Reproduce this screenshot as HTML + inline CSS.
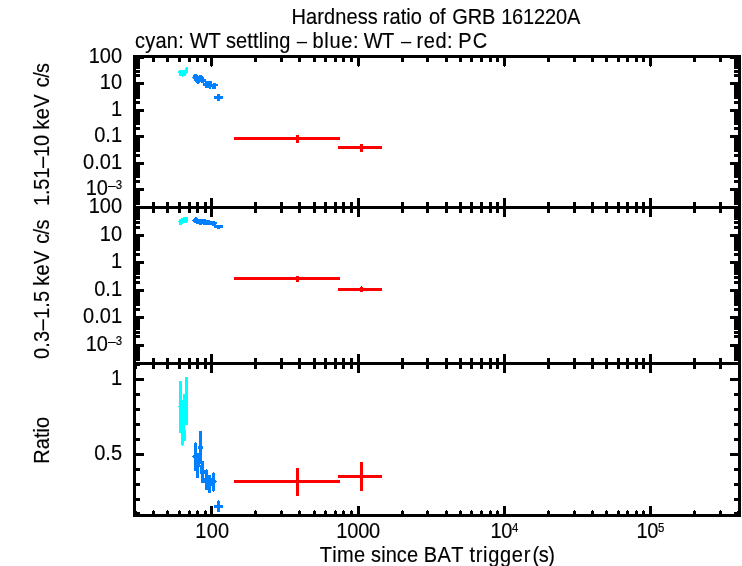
<!DOCTYPE html>
<html><head><meta charset="utf-8"><title>Hardness ratio of GRB 161220A</title>
<style>html,body{margin:0;padding:0;background:#fff}svg{display:block}text{font-kerning:none;font-family:"Liberation Sans",sans-serif;font-size:20px;fill:#000;stroke:#000;stroke-width:0.15px}</style></head>
<body><svg width="742" height="566" viewBox="0 0 742 566">
<rect width="742" height="566" fill="#fff"/>
<g shape-rendering="crispEdges">
<rect x="133" y="55" width="608" height="3" fill="#000"/>
<rect x="133" y="206" width="608" height="3" fill="#000"/>
<rect x="133" y="362" width="608" height="3" fill="#000"/>
<rect x="133" y="514" width="608" height="3" fill="#000"/>
<rect x="133" y="55" width="3" height="462" fill="#000"/>
<rect x="738" y="55" width="3" height="462" fill="#000"/>
<rect x="152" y="55" width="3" height="7" fill="#000"/>
<rect x="166" y="55" width="3" height="7" fill="#000"/>
<rect x="178" y="55" width="3" height="7" fill="#000"/>
<rect x="188" y="55" width="3" height="7" fill="#000"/>
<rect x="196" y="55" width="3" height="7" fill="#000"/>
<rect x="204" y="55" width="3" height="7" fill="#000"/>
<rect x="254" y="55" width="3" height="7" fill="#000"/>
<rect x="280" y="55" width="3" height="7" fill="#000"/>
<rect x="298" y="55" width="3" height="7" fill="#000"/>
<rect x="313" y="55" width="3" height="7" fill="#000"/>
<rect x="324" y="55" width="3" height="7" fill="#000"/>
<rect x="334" y="55" width="3" height="7" fill="#000"/>
<rect x="342" y="55" width="3" height="7" fill="#000"/>
<rect x="350" y="55" width="3" height="7" fill="#000"/>
<rect x="401" y="55" width="3" height="7" fill="#000"/>
<rect x="426" y="55" width="3" height="7" fill="#000"/>
<rect x="445" y="55" width="3" height="7" fill="#000"/>
<rect x="459" y="55" width="3" height="7" fill="#000"/>
<rect x="470" y="55" width="3" height="7" fill="#000"/>
<rect x="480" y="55" width="3" height="7" fill="#000"/>
<rect x="489" y="55" width="3" height="7" fill="#000"/>
<rect x="496" y="55" width="3" height="7" fill="#000"/>
<rect x="547" y="55" width="3" height="7" fill="#000"/>
<rect x="573" y="55" width="3" height="7" fill="#000"/>
<rect x="591" y="55" width="3" height="7" fill="#000"/>
<rect x="605" y="55" width="3" height="7" fill="#000"/>
<rect x="617" y="55" width="3" height="7" fill="#000"/>
<rect x="626" y="55" width="3" height="7" fill="#000"/>
<rect x="635" y="55" width="3" height="7" fill="#000"/>
<rect x="642" y="55" width="3" height="7" fill="#000"/>
<rect x="693" y="55" width="3" height="7" fill="#000"/>
<rect x="719" y="55" width="3" height="7" fill="#000"/>
<rect x="210" y="55" width="3" height="11" fill="#000"/>
<rect x="211" y="66" width="1" height="1" fill="#000"/>
<rect x="357" y="55" width="3" height="11" fill="#000"/>
<rect x="358" y="66" width="1" height="1" fill="#000"/>
<rect x="503" y="55" width="3" height="11" fill="#000"/>
<rect x="504" y="66" width="1" height="1" fill="#000"/>
<rect x="649" y="55" width="3" height="11" fill="#000"/>
<rect x="650" y="66" width="1" height="1" fill="#000"/>
<rect x="152" y="202" width="3" height="11" fill="#000"/>
<rect x="166" y="202" width="3" height="11" fill="#000"/>
<rect x="178" y="202" width="3" height="11" fill="#000"/>
<rect x="188" y="202" width="3" height="11" fill="#000"/>
<rect x="196" y="202" width="3" height="11" fill="#000"/>
<rect x="204" y="202" width="3" height="11" fill="#000"/>
<rect x="254" y="202" width="3" height="11" fill="#000"/>
<rect x="280" y="202" width="3" height="11" fill="#000"/>
<rect x="298" y="202" width="3" height="11" fill="#000"/>
<rect x="313" y="202" width="3" height="11" fill="#000"/>
<rect x="324" y="202" width="3" height="11" fill="#000"/>
<rect x="334" y="202" width="3" height="11" fill="#000"/>
<rect x="342" y="202" width="3" height="11" fill="#000"/>
<rect x="350" y="202" width="3" height="11" fill="#000"/>
<rect x="401" y="202" width="3" height="11" fill="#000"/>
<rect x="426" y="202" width="3" height="11" fill="#000"/>
<rect x="445" y="202" width="3" height="11" fill="#000"/>
<rect x="459" y="202" width="3" height="11" fill="#000"/>
<rect x="470" y="202" width="3" height="11" fill="#000"/>
<rect x="480" y="202" width="3" height="11" fill="#000"/>
<rect x="489" y="202" width="3" height="11" fill="#000"/>
<rect x="496" y="202" width="3" height="11" fill="#000"/>
<rect x="547" y="202" width="3" height="11" fill="#000"/>
<rect x="573" y="202" width="3" height="11" fill="#000"/>
<rect x="591" y="202" width="3" height="11" fill="#000"/>
<rect x="605" y="202" width="3" height="11" fill="#000"/>
<rect x="617" y="202" width="3" height="11" fill="#000"/>
<rect x="626" y="202" width="3" height="11" fill="#000"/>
<rect x="635" y="202" width="3" height="11" fill="#000"/>
<rect x="642" y="202" width="3" height="11" fill="#000"/>
<rect x="693" y="202" width="3" height="11" fill="#000"/>
<rect x="719" y="202" width="3" height="11" fill="#000"/>
<rect x="210" y="198" width="3" height="19" fill="#000"/>
<rect x="357" y="198" width="3" height="19" fill="#000"/>
<rect x="503" y="198" width="3" height="19" fill="#000"/>
<rect x="649" y="198" width="3" height="19" fill="#000"/>
<rect x="152" y="358" width="3" height="11" fill="#000"/>
<rect x="166" y="358" width="3" height="11" fill="#000"/>
<rect x="178" y="358" width="3" height="11" fill="#000"/>
<rect x="188" y="358" width="3" height="11" fill="#000"/>
<rect x="196" y="358" width="3" height="11" fill="#000"/>
<rect x="204" y="358" width="3" height="11" fill="#000"/>
<rect x="254" y="358" width="3" height="11" fill="#000"/>
<rect x="280" y="358" width="3" height="11" fill="#000"/>
<rect x="298" y="358" width="3" height="11" fill="#000"/>
<rect x="313" y="358" width="3" height="11" fill="#000"/>
<rect x="324" y="358" width="3" height="11" fill="#000"/>
<rect x="334" y="358" width="3" height="11" fill="#000"/>
<rect x="342" y="358" width="3" height="11" fill="#000"/>
<rect x="350" y="358" width="3" height="11" fill="#000"/>
<rect x="401" y="358" width="3" height="11" fill="#000"/>
<rect x="426" y="358" width="3" height="11" fill="#000"/>
<rect x="445" y="358" width="3" height="11" fill="#000"/>
<rect x="459" y="358" width="3" height="11" fill="#000"/>
<rect x="470" y="358" width="3" height="11" fill="#000"/>
<rect x="480" y="358" width="3" height="11" fill="#000"/>
<rect x="489" y="358" width="3" height="11" fill="#000"/>
<rect x="496" y="358" width="3" height="11" fill="#000"/>
<rect x="547" y="358" width="3" height="11" fill="#000"/>
<rect x="573" y="358" width="3" height="11" fill="#000"/>
<rect x="591" y="358" width="3" height="11" fill="#000"/>
<rect x="605" y="358" width="3" height="11" fill="#000"/>
<rect x="617" y="358" width="3" height="11" fill="#000"/>
<rect x="626" y="358" width="3" height="11" fill="#000"/>
<rect x="635" y="358" width="3" height="11" fill="#000"/>
<rect x="642" y="358" width="3" height="11" fill="#000"/>
<rect x="693" y="358" width="3" height="11" fill="#000"/>
<rect x="719" y="358" width="3" height="11" fill="#000"/>
<rect x="210" y="354" width="3" height="19" fill="#000"/>
<rect x="357" y="354" width="3" height="19" fill="#000"/>
<rect x="503" y="354" width="3" height="19" fill="#000"/>
<rect x="649" y="354" width="3" height="19" fill="#000"/>
<rect x="152" y="511" width="3" height="6" fill="#000"/>
<rect x="153" y="510" width="1" height="1" fill="#000"/>
<rect x="166" y="511" width="3" height="6" fill="#000"/>
<rect x="167" y="510" width="1" height="1" fill="#000"/>
<rect x="178" y="511" width="3" height="6" fill="#000"/>
<rect x="179" y="510" width="1" height="1" fill="#000"/>
<rect x="188" y="511" width="3" height="6" fill="#000"/>
<rect x="189" y="510" width="1" height="1" fill="#000"/>
<rect x="196" y="511" width="3" height="6" fill="#000"/>
<rect x="197" y="510" width="1" height="1" fill="#000"/>
<rect x="204" y="511" width="3" height="6" fill="#000"/>
<rect x="205" y="510" width="1" height="1" fill="#000"/>
<rect x="254" y="511" width="3" height="6" fill="#000"/>
<rect x="255" y="510" width="1" height="1" fill="#000"/>
<rect x="280" y="511" width="3" height="6" fill="#000"/>
<rect x="281" y="510" width="1" height="1" fill="#000"/>
<rect x="298" y="511" width="3" height="6" fill="#000"/>
<rect x="299" y="510" width="1" height="1" fill="#000"/>
<rect x="313" y="511" width="3" height="6" fill="#000"/>
<rect x="314" y="510" width="1" height="1" fill="#000"/>
<rect x="324" y="511" width="3" height="6" fill="#000"/>
<rect x="325" y="510" width="1" height="1" fill="#000"/>
<rect x="334" y="511" width="3" height="6" fill="#000"/>
<rect x="335" y="510" width="1" height="1" fill="#000"/>
<rect x="342" y="511" width="3" height="6" fill="#000"/>
<rect x="343" y="510" width="1" height="1" fill="#000"/>
<rect x="350" y="511" width="3" height="6" fill="#000"/>
<rect x="351" y="510" width="1" height="1" fill="#000"/>
<rect x="401" y="511" width="3" height="6" fill="#000"/>
<rect x="402" y="510" width="1" height="1" fill="#000"/>
<rect x="426" y="511" width="3" height="6" fill="#000"/>
<rect x="427" y="510" width="1" height="1" fill="#000"/>
<rect x="445" y="511" width="3" height="6" fill="#000"/>
<rect x="446" y="510" width="1" height="1" fill="#000"/>
<rect x="459" y="511" width="3" height="6" fill="#000"/>
<rect x="460" y="510" width="1" height="1" fill="#000"/>
<rect x="470" y="511" width="3" height="6" fill="#000"/>
<rect x="471" y="510" width="1" height="1" fill="#000"/>
<rect x="480" y="511" width="3" height="6" fill="#000"/>
<rect x="481" y="510" width="1" height="1" fill="#000"/>
<rect x="489" y="511" width="3" height="6" fill="#000"/>
<rect x="490" y="510" width="1" height="1" fill="#000"/>
<rect x="496" y="511" width="3" height="6" fill="#000"/>
<rect x="497" y="510" width="1" height="1" fill="#000"/>
<rect x="547" y="511" width="3" height="6" fill="#000"/>
<rect x="548" y="510" width="1" height="1" fill="#000"/>
<rect x="573" y="511" width="3" height="6" fill="#000"/>
<rect x="574" y="510" width="1" height="1" fill="#000"/>
<rect x="591" y="511" width="3" height="6" fill="#000"/>
<rect x="592" y="510" width="1" height="1" fill="#000"/>
<rect x="605" y="511" width="3" height="6" fill="#000"/>
<rect x="606" y="510" width="1" height="1" fill="#000"/>
<rect x="617" y="511" width="3" height="6" fill="#000"/>
<rect x="618" y="510" width="1" height="1" fill="#000"/>
<rect x="626" y="511" width="3" height="6" fill="#000"/>
<rect x="627" y="510" width="1" height="1" fill="#000"/>
<rect x="635" y="511" width="3" height="6" fill="#000"/>
<rect x="636" y="510" width="1" height="1" fill="#000"/>
<rect x="642" y="511" width="3" height="6" fill="#000"/>
<rect x="643" y="510" width="1" height="1" fill="#000"/>
<rect x="693" y="511" width="3" height="6" fill="#000"/>
<rect x="694" y="510" width="1" height="1" fill="#000"/>
<rect x="719" y="511" width="3" height="6" fill="#000"/>
<rect x="720" y="510" width="1" height="1" fill="#000"/>
<rect x="210" y="506" width="3" height="11" fill="#000"/>
<rect x="357" y="506" width="3" height="11" fill="#000"/>
<rect x="503" y="506" width="3" height="11" fill="#000"/>
<rect x="649" y="506" width="3" height="11" fill="#000"/>
<rect x="133" y="82" width="11" height="3" fill="#000"/>
<rect x="730" y="82" width="11" height="3" fill="#000"/>
<rect x="133" y="109" width="11" height="3" fill="#000"/>
<rect x="730" y="109" width="11" height="3" fill="#000"/>
<rect x="133" y="135" width="11" height="3" fill="#000"/>
<rect x="730" y="135" width="11" height="3" fill="#000"/>
<rect x="133" y="162" width="11" height="3" fill="#000"/>
<rect x="730" y="162" width="11" height="3" fill="#000"/>
<rect x="133" y="188" width="11" height="3" fill="#000"/>
<rect x="730" y="188" width="11" height="3" fill="#000"/>
<rect x="133" y="74" width="7" height="3" fill="#000"/>
<rect x="734" y="74" width="7" height="3" fill="#000"/>
<rect x="133" y="70" width="7" height="3" fill="#000"/>
<rect x="734" y="70" width="7" height="3" fill="#000"/>
<rect x="133" y="66" width="7" height="3" fill="#000"/>
<rect x="734" y="66" width="7" height="3" fill="#000"/>
<rect x="133" y="63" width="7" height="3" fill="#000"/>
<rect x="734" y="63" width="7" height="3" fill="#000"/>
<rect x="133" y="61" width="7" height="3" fill="#000"/>
<rect x="734" y="61" width="7" height="3" fill="#000"/>
<rect x="133" y="59" width="7" height="3" fill="#000"/>
<rect x="734" y="59" width="7" height="3" fill="#000"/>
<rect x="133" y="58" width="7" height="3" fill="#000"/>
<rect x="734" y="58" width="7" height="3" fill="#000"/>
<rect x="133" y="101" width="7" height="3" fill="#000"/>
<rect x="734" y="101" width="7" height="3" fill="#000"/>
<rect x="133" y="96" width="7" height="3" fill="#000"/>
<rect x="734" y="96" width="7" height="3" fill="#000"/>
<rect x="133" y="93" width="7" height="3" fill="#000"/>
<rect x="734" y="93" width="7" height="3" fill="#000"/>
<rect x="133" y="90" width="7" height="3" fill="#000"/>
<rect x="734" y="90" width="7" height="3" fill="#000"/>
<rect x="133" y="88" width="7" height="3" fill="#000"/>
<rect x="734" y="88" width="7" height="3" fill="#000"/>
<rect x="133" y="86" width="7" height="3" fill="#000"/>
<rect x="734" y="86" width="7" height="3" fill="#000"/>
<rect x="133" y="85" width="7" height="3" fill="#000"/>
<rect x="734" y="85" width="7" height="3" fill="#000"/>
<rect x="133" y="83" width="7" height="3" fill="#000"/>
<rect x="734" y="83" width="7" height="3" fill="#000"/>
<rect x="133" y="127" width="7" height="3" fill="#000"/>
<rect x="734" y="127" width="7" height="3" fill="#000"/>
<rect x="133" y="122" width="7" height="3" fill="#000"/>
<rect x="734" y="122" width="7" height="3" fill="#000"/>
<rect x="133" y="119" width="7" height="3" fill="#000"/>
<rect x="734" y="119" width="7" height="3" fill="#000"/>
<rect x="133" y="117" width="7" height="3" fill="#000"/>
<rect x="734" y="117" width="7" height="3" fill="#000"/>
<rect x="133" y="115" width="7" height="3" fill="#000"/>
<rect x="734" y="115" width="7" height="3" fill="#000"/>
<rect x="133" y="113" width="7" height="3" fill="#000"/>
<rect x="734" y="113" width="7" height="3" fill="#000"/>
<rect x="133" y="112" width="7" height="3" fill="#000"/>
<rect x="734" y="112" width="7" height="3" fill="#000"/>
<rect x="133" y="110" width="7" height="3" fill="#000"/>
<rect x="734" y="110" width="7" height="3" fill="#000"/>
<rect x="133" y="154" width="7" height="3" fill="#000"/>
<rect x="734" y="154" width="7" height="3" fill="#000"/>
<rect x="133" y="149" width="7" height="3" fill="#000"/>
<rect x="734" y="149" width="7" height="3" fill="#000"/>
<rect x="133" y="146" width="7" height="3" fill="#000"/>
<rect x="734" y="146" width="7" height="3" fill="#000"/>
<rect x="133" y="143" width="7" height="3" fill="#000"/>
<rect x="734" y="143" width="7" height="3" fill="#000"/>
<rect x="133" y="141" width="7" height="3" fill="#000"/>
<rect x="734" y="141" width="7" height="3" fill="#000"/>
<rect x="133" y="139" width="7" height="3" fill="#000"/>
<rect x="734" y="139" width="7" height="3" fill="#000"/>
<rect x="133" y="138" width="7" height="3" fill="#000"/>
<rect x="734" y="138" width="7" height="3" fill="#000"/>
<rect x="133" y="136" width="7" height="3" fill="#000"/>
<rect x="734" y="136" width="7" height="3" fill="#000"/>
<rect x="133" y="180" width="7" height="3" fill="#000"/>
<rect x="734" y="180" width="7" height="3" fill="#000"/>
<rect x="133" y="175" width="7" height="3" fill="#000"/>
<rect x="734" y="175" width="7" height="3" fill="#000"/>
<rect x="133" y="172" width="7" height="3" fill="#000"/>
<rect x="734" y="172" width="7" height="3" fill="#000"/>
<rect x="133" y="170" width="7" height="3" fill="#000"/>
<rect x="734" y="170" width="7" height="3" fill="#000"/>
<rect x="133" y="168" width="7" height="3" fill="#000"/>
<rect x="734" y="168" width="7" height="3" fill="#000"/>
<rect x="133" y="166" width="7" height="3" fill="#000"/>
<rect x="734" y="166" width="7" height="3" fill="#000"/>
<rect x="133" y="165" width="7" height="3" fill="#000"/>
<rect x="734" y="165" width="7" height="3" fill="#000"/>
<rect x="133" y="163" width="7" height="3" fill="#000"/>
<rect x="734" y="163" width="7" height="3" fill="#000"/>
<rect x="133" y="202" width="7" height="3" fill="#000"/>
<rect x="734" y="202" width="7" height="3" fill="#000"/>
<rect x="133" y="199" width="7" height="3" fill="#000"/>
<rect x="734" y="199" width="7" height="3" fill="#000"/>
<rect x="133" y="196" width="7" height="3" fill="#000"/>
<rect x="734" y="196" width="7" height="3" fill="#000"/>
<rect x="133" y="194" width="7" height="3" fill="#000"/>
<rect x="734" y="194" width="7" height="3" fill="#000"/>
<rect x="133" y="192" width="7" height="3" fill="#000"/>
<rect x="734" y="192" width="7" height="3" fill="#000"/>
<rect x="133" y="191" width="7" height="3" fill="#000"/>
<rect x="734" y="191" width="7" height="3" fill="#000"/>
<rect x="133" y="189" width="7" height="3" fill="#000"/>
<rect x="734" y="189" width="7" height="3" fill="#000"/>
<rect x="133" y="234" width="11" height="3" fill="#000"/>
<rect x="730" y="234" width="11" height="3" fill="#000"/>
<rect x="133" y="261" width="11" height="3" fill="#000"/>
<rect x="730" y="261" width="11" height="3" fill="#000"/>
<rect x="133" y="289" width="11" height="3" fill="#000"/>
<rect x="730" y="289" width="11" height="3" fill="#000"/>
<rect x="133" y="316" width="11" height="3" fill="#000"/>
<rect x="730" y="316" width="11" height="3" fill="#000"/>
<rect x="133" y="344" width="11" height="3" fill="#000"/>
<rect x="730" y="344" width="11" height="3" fill="#000"/>
<rect x="133" y="226" width="7" height="3" fill="#000"/>
<rect x="734" y="226" width="7" height="3" fill="#000"/>
<rect x="133" y="221" width="7" height="3" fill="#000"/>
<rect x="734" y="221" width="7" height="3" fill="#000"/>
<rect x="133" y="217" width="7" height="3" fill="#000"/>
<rect x="734" y="217" width="7" height="3" fill="#000"/>
<rect x="133" y="214" width="7" height="3" fill="#000"/>
<rect x="734" y="214" width="7" height="3" fill="#000"/>
<rect x="133" y="212" width="7" height="3" fill="#000"/>
<rect x="734" y="212" width="7" height="3" fill="#000"/>
<rect x="133" y="210" width="7" height="3" fill="#000"/>
<rect x="734" y="210" width="7" height="3" fill="#000"/>
<rect x="133" y="209" width="7" height="3" fill="#000"/>
<rect x="734" y="209" width="7" height="3" fill="#000"/>
<rect x="133" y="253" width="7" height="3" fill="#000"/>
<rect x="734" y="253" width="7" height="3" fill="#000"/>
<rect x="133" y="248" width="7" height="3" fill="#000"/>
<rect x="734" y="248" width="7" height="3" fill="#000"/>
<rect x="133" y="245" width="7" height="3" fill="#000"/>
<rect x="734" y="245" width="7" height="3" fill="#000"/>
<rect x="133" y="242" width="7" height="3" fill="#000"/>
<rect x="734" y="242" width="7" height="3" fill="#000"/>
<rect x="133" y="240" width="7" height="3" fill="#000"/>
<rect x="734" y="240" width="7" height="3" fill="#000"/>
<rect x="133" y="238" width="7" height="3" fill="#000"/>
<rect x="734" y="238" width="7" height="3" fill="#000"/>
<rect x="133" y="237" width="7" height="3" fill="#000"/>
<rect x="734" y="237" width="7" height="3" fill="#000"/>
<rect x="133" y="235" width="7" height="3" fill="#000"/>
<rect x="734" y="235" width="7" height="3" fill="#000"/>
<rect x="133" y="281" width="7" height="3" fill="#000"/>
<rect x="734" y="281" width="7" height="3" fill="#000"/>
<rect x="133" y="276" width="7" height="3" fill="#000"/>
<rect x="734" y="276" width="7" height="3" fill="#000"/>
<rect x="133" y="272" width="7" height="3" fill="#000"/>
<rect x="734" y="272" width="7" height="3" fill="#000"/>
<rect x="133" y="269" width="7" height="3" fill="#000"/>
<rect x="734" y="269" width="7" height="3" fill="#000"/>
<rect x="133" y="267" width="7" height="3" fill="#000"/>
<rect x="734" y="267" width="7" height="3" fill="#000"/>
<rect x="133" y="265" width="7" height="3" fill="#000"/>
<rect x="734" y="265" width="7" height="3" fill="#000"/>
<rect x="133" y="264" width="7" height="3" fill="#000"/>
<rect x="734" y="264" width="7" height="3" fill="#000"/>
<rect x="133" y="262" width="7" height="3" fill="#000"/>
<rect x="734" y="262" width="7" height="3" fill="#000"/>
<rect x="133" y="308" width="7" height="3" fill="#000"/>
<rect x="734" y="308" width="7" height="3" fill="#000"/>
<rect x="133" y="303" width="7" height="3" fill="#000"/>
<rect x="734" y="303" width="7" height="3" fill="#000"/>
<rect x="133" y="300" width="7" height="3" fill="#000"/>
<rect x="734" y="300" width="7" height="3" fill="#000"/>
<rect x="133" y="297" width="7" height="3" fill="#000"/>
<rect x="734" y="297" width="7" height="3" fill="#000"/>
<rect x="133" y="295" width="7" height="3" fill="#000"/>
<rect x="734" y="295" width="7" height="3" fill="#000"/>
<rect x="133" y="293" width="7" height="3" fill="#000"/>
<rect x="734" y="293" width="7" height="3" fill="#000"/>
<rect x="133" y="292" width="7" height="3" fill="#000"/>
<rect x="734" y="292" width="7" height="3" fill="#000"/>
<rect x="133" y="290" width="7" height="3" fill="#000"/>
<rect x="734" y="290" width="7" height="3" fill="#000"/>
<rect x="133" y="335" width="7" height="3" fill="#000"/>
<rect x="734" y="335" width="7" height="3" fill="#000"/>
<rect x="133" y="331" width="7" height="3" fill="#000"/>
<rect x="734" y="331" width="7" height="3" fill="#000"/>
<rect x="133" y="327" width="7" height="3" fill="#000"/>
<rect x="734" y="327" width="7" height="3" fill="#000"/>
<rect x="133" y="324" width="7" height="3" fill="#000"/>
<rect x="734" y="324" width="7" height="3" fill="#000"/>
<rect x="133" y="322" width="7" height="3" fill="#000"/>
<rect x="734" y="322" width="7" height="3" fill="#000"/>
<rect x="133" y="320" width="7" height="3" fill="#000"/>
<rect x="734" y="320" width="7" height="3" fill="#000"/>
<rect x="133" y="319" width="7" height="3" fill="#000"/>
<rect x="734" y="319" width="7" height="3" fill="#000"/>
<rect x="133" y="317" width="7" height="3" fill="#000"/>
<rect x="734" y="317" width="7" height="3" fill="#000"/>
<rect x="133" y="358" width="7" height="3" fill="#000"/>
<rect x="734" y="358" width="7" height="3" fill="#000"/>
<rect x="133" y="355" width="7" height="3" fill="#000"/>
<rect x="734" y="355" width="7" height="3" fill="#000"/>
<rect x="133" y="352" width="7" height="3" fill="#000"/>
<rect x="734" y="352" width="7" height="3" fill="#000"/>
<rect x="133" y="350" width="7" height="3" fill="#000"/>
<rect x="734" y="350" width="7" height="3" fill="#000"/>
<rect x="133" y="348" width="7" height="3" fill="#000"/>
<rect x="734" y="348" width="7" height="3" fill="#000"/>
<rect x="133" y="347" width="7" height="3" fill="#000"/>
<rect x="734" y="347" width="7" height="3" fill="#000"/>
<rect x="133" y="345" width="7" height="3" fill="#000"/>
<rect x="734" y="345" width="7" height="3" fill="#000"/>
<rect x="136" y="365" width="4" height="1" fill="#000"/>
<rect x="136" y="366" width="1" height="3" fill="#000"/>
<rect x="133" y="498" width="7" height="3" fill="#000"/>
<rect x="734" y="498" width="7" height="3" fill="#000"/>
<rect x="133" y="483" width="7" height="3" fill="#000"/>
<rect x="734" y="483" width="7" height="3" fill="#000"/>
<rect x="133" y="468" width="7" height="3" fill="#000"/>
<rect x="734" y="468" width="7" height="3" fill="#000"/>
<rect x="133" y="453" width="11" height="3" fill="#000"/>
<rect x="730" y="453" width="11" height="3" fill="#000"/>
<rect x="133" y="438" width="7" height="3" fill="#000"/>
<rect x="734" y="438" width="7" height="3" fill="#000"/>
<rect x="133" y="423" width="7" height="3" fill="#000"/>
<rect x="734" y="423" width="7" height="3" fill="#000"/>
<rect x="133" y="408" width="7" height="3" fill="#000"/>
<rect x="734" y="408" width="7" height="3" fill="#000"/>
<rect x="133" y="393" width="7" height="3" fill="#000"/>
<rect x="734" y="393" width="7" height="3" fill="#000"/>
<rect x="133" y="378" width="11" height="3" fill="#000"/>
<rect x="730" y="378" width="11" height="3" fill="#000"/>
<rect x="136" y="58" width="8" height="1" fill="#000"/>
<rect x="730" y="58" width="8" height="1" fill="#000"/>
<rect x="136" y="512" width="4" height="2" fill="#000"/>
<rect x="136" y="511" width="1" height="1" fill="#000"/>
<rect x="734" y="512" width="4" height="2" fill="#000"/>
<rect x="737" y="511" width="1" height="1" fill="#000"/>
<rect x="234" y="137" width="106" height="3" fill="#ff0000"/>
<rect x="296" y="135" width="3" height="8" fill="#ff0000"/>
<rect x="338" y="146" width="44" height="3" fill="#ff0000"/>
<rect x="360" y="144" width="3" height="8" fill="#ff0000"/>
<rect x="234" y="277" width="106" height="3" fill="#ff0000"/>
<rect x="296" y="276" width="3" height="6" fill="#ff0000"/>
<rect x="338" y="288" width="44" height="3" fill="#ff0000"/>
<rect x="360" y="287" width="3" height="5" fill="#ff0000"/>
<rect x="361" y="286" width="1" height="1" fill="#ff0000"/>
<rect x="234" y="480" width="106" height="3" fill="#ff0000"/>
<rect x="296" y="468" width="3" height="28" fill="#ff0000"/>
<rect x="338" y="475" width="44" height="3" fill="#ff0000"/>
<rect x="360" y="462" width="3" height="29" fill="#ff0000"/>
<rect x="186" y="67" width="2" height="1" fill="#00ffff"/>
<rect x="185" y="68" width="3" height="2" fill="#00ffff"/>
<rect x="179" y="70" width="9" height="1" fill="#00ffff"/>
<rect x="178" y="71" width="10" height="2" fill="#00ffff"/>
<rect x="179" y="73" width="8" height="1" fill="#00ffff"/>
<rect x="179" y="74" width="7" height="2" fill="#00ffff"/>
<rect x="182" y="76" width="1" height="1" fill="#00ffff"/>
<rect x="194" y="74" width="3" height="1" fill="#0080ff"/>
<rect x="193" y="75" width="5" height="1" fill="#0080ff"/>
<rect x="199" y="75" width="3" height="1" fill="#0080ff"/>
<rect x="193" y="76" width="10" height="1" fill="#0080ff"/>
<rect x="192" y="77" width="12" height="1" fill="#0080ff"/>
<rect x="193" y="78" width="11" height="1" fill="#0080ff"/>
<rect x="194" y="79" width="12" height="2" fill="#0080ff"/>
<rect x="195" y="81" width="17" height="1" fill="#0080ff"/>
<rect x="196" y="82" width="4" height="1" fill="#0080ff"/>
<rect x="201" y="82" width="3" height="1" fill="#0080ff"/>
<rect x="205" y="82" width="7" height="1" fill="#0080ff"/>
<rect x="197" y="83" width="2" height="1" fill="#0080ff"/>
<rect x="203" y="83" width="9" height="1" fill="#0080ff"/>
<rect x="213" y="83" width="3" height="1" fill="#0080ff"/>
<rect x="203" y="84" width="15" height="2" fill="#0080ff"/>
<rect x="205" y="86" width="11" height="1" fill="#0080ff"/>
<rect x="205" y="87" width="6" height="1" fill="#0080ff"/>
<rect x="212" y="87" width="4" height="1" fill="#0080ff"/>
<rect x="209" y="88" width="2" height="1" fill="#0080ff"/>
<rect x="212" y="88" width="4" height="1" fill="#0080ff"/>
<rect x="214" y="96" width="9" height="3" fill="#0080ff"/>
<rect x="217" y="94" width="3" height="7" fill="#0080ff"/>
<rect x="183" y="217" width="5" height="1" fill="#00ffff"/>
<rect x="181" y="218" width="7" height="1" fill="#00ffff"/>
<rect x="179" y="219" width="9" height="2" fill="#00ffff"/>
<rect x="178" y="221" width="10" height="1" fill="#00ffff"/>
<rect x="179" y="222" width="8" height="1" fill="#00ffff"/>
<rect x="179" y="223" width="4" height="1" fill="#00ffff"/>
<rect x="179" y="224" width="3" height="1" fill="#00ffff"/>
<rect x="195" y="217" width="2" height="1" fill="#0080ff"/>
<rect x="194" y="218" width="4" height="1" fill="#0080ff"/>
<rect x="193" y="219" width="13" height="1" fill="#0080ff"/>
<rect x="192" y="220" width="18" height="1" fill="#0080ff"/>
<rect x="193" y="221" width="22" height="1" fill="#0080ff"/>
<rect x="194" y="222" width="23" height="1" fill="#0080ff"/>
<rect x="196" y="223" width="21" height="1" fill="#0080ff"/>
<rect x="199" y="224" width="3" height="1" fill="#0080ff"/>
<rect x="203" y="224" width="13" height="1" fill="#0080ff"/>
<rect x="212" y="225" width="11" height="1" fill="#0080ff"/>
<rect x="214" y="226" width="9" height="2" fill="#0080ff"/>
<rect x="217" y="228" width="3" height="1" fill="#0080ff"/>
<rect x="185" y="377" width="3" height="48" fill="#00ffff"/>
<rect x="179" y="381" width="3" height="52" fill="#00ffff"/>
<rect x="183" y="394" width="2" height="47" fill="#00ffff"/>
<rect x="182" y="400" width="1" height="41" fill="#00ffff"/>
<rect x="181" y="430" width="5" height="11" fill="#00ffff"/>
<rect x="181" y="440" width="3" height="5" fill="#00ffff"/>
<rect x="182" y="445" width="1" height="1" fill="#00ffff"/>
<rect x="178" y="406" width="1" height="1" fill="#00ffff"/>
<rect x="199" y="431" width="3" height="32" fill="#0080ff"/>
<rect x="198" y="446" width="5" height="3" fill="#0080ff"/>
<rect x="194" y="443" width="3" height="28" fill="#0080ff"/>
<rect x="195" y="442" width="1" height="1" fill="#0080ff"/>
<rect x="194" y="453" width="8" height="11" fill="#0080ff"/>
<rect x="193" y="455" width="1" height="3" fill="#0080ff"/>
<rect x="192" y="456" width="1" height="1" fill="#0080ff"/>
<rect x="194" y="461" width="10" height="6" fill="#0080ff"/>
<rect x="194" y="467" width="5" height="4" fill="#0080ff"/>
<rect x="200" y="467" width="4" height="4" fill="#0080ff"/>
<rect x="196" y="470" width="3" height="8" fill="#0080ff"/>
<rect x="201" y="461" width="3" height="22" fill="#0080ff"/>
<rect x="200" y="471" width="1" height="3" fill="#0080ff"/>
<rect x="205" y="470" width="3" height="20" fill="#0080ff"/>
<rect x="206" y="469" width="1" height="1" fill="#0080ff"/>
<rect x="204" y="470" width="1" height="4" fill="#0080ff"/>
<rect x="204" y="478" width="1" height="5" fill="#0080ff"/>
<rect x="208" y="475" width="3" height="18" fill="#0080ff"/>
<rect x="212" y="473" width="3" height="18" fill="#0080ff"/>
<rect x="213" y="472" width="1" height="20" fill="#0080ff"/>
<rect x="211" y="478" width="1" height="8" fill="#0080ff"/>
<rect x="215" y="480" width="1" height="3" fill="#0080ff"/>
<rect x="216" y="481" width="1" height="1" fill="#0080ff"/>
<rect x="200" y="464" width="1" height="1" fill="#fff"/>
<rect x="214" y="505" width="9" height="3" fill="#0080ff"/>
<rect x="217" y="501" width="3" height="11" fill="#0080ff"/>
<rect x="218" y="500" width="1" height="1" fill="#0080ff"/>
</g>
<g>
<text transform="translate(0,24) scale(1,1.07)"><tspan x="291.46" y="0" letter-spacing="0.12">Hardness</tspan> <tspan x="382.74" y="0" letter-spacing="0.09">ratio</tspan> <tspan x="429.03" y="0" letter-spacing="-0.21">of</tspan> <tspan x="452.24" y="0" letter-spacing="-0.11">GRB</tspan> <tspan x="501.16" y="0" letter-spacing="-0.15">161220A</tspan></text>
<text transform="translate(0,47.5) scale(1,1.07)"><tspan x="134.93" y="0" letter-spacing="0.25">cyan:</tspan> <tspan x="189.74" y="0" letter-spacing="-0.19">WT</tspan> <tspan x="225.93" y="0" letter-spacing="0.16">settling</tspan> <tspan x="296.8" y="0.7" font-size="18.5" stroke="none">–</tspan> <tspan x="312.56" y="0" letter-spacing="0.67">blue:</tspan> <tspan x="363.74" y="0" letter-spacing="-0.49">WT</tspan> <tspan x="401.1" y="0.7" font-size="18.5" stroke="none">–</tspan> <tspan x="416.54" y="0" letter-spacing="0.55">red:</tspan> <tspan x="458.36" y="0" letter-spacing="1">PC</tspan></text>
<text transform="translate(0,562) scale(1,1.07)"><tspan x="319.64" y="0" letter-spacing="0.32">Time</tspan> <tspan x="371.13" y="0" letter-spacing="0.06">since</tspan> <tspan x="423.86" y="0" letter-spacing="0.37">BAT</tspan> <tspan x="469.39" y="0" letter-spacing="0.71">trigger</tspan> <tspan x="532.63" y="0" letter-spacing="-0.54">(s)</tspan></text>
<text transform="translate(48.7,0) rotate(-90) scale(1,1.07)"><tspan x="-206.04" y="0" letter-spacing="-0.2">1.51–10</tspan> <tspan x="-129.46" y="0" letter-spacing="0.24">keV</tspan> <tspan x="-87.27" y="0" letter-spacing="-0.6">c/s</tspan></text>
<text transform="translate(48.7,0) rotate(-90) scale(1,1.07)"><tspan x="-359.12" y="0" letter-spacing="0.27">0.3–1.5</tspan> <tspan x="-285.66" y="0" letter-spacing="0.24">keV</tspan> <tspan x="-243.87" y="0" letter-spacing="-0.6">c/s</tspan></text>
<text transform="translate(48.7,0) rotate(-90) scale(1,1.07)"><tspan x="-463.64" y="0" letter-spacing="0.03">Ratio</tspan></text>
<text transform="translate(0,538) scale(1,1.07)"><tspan x="195.36" y="0" letter-spacing="0.15">100</tspan></text>
<text transform="translate(0,538) scale(1,1.07)"><tspan x="336.36" y="0" letter-spacing="-0.23">1000</tspan></text>
<text transform="translate(0,538) scale(1,1.07)"><tspan x="490.46" y="0" letter-spacing="-0.35">10</tspan><tspan font-size="11.4" dy="-5.7">4</tspan></text>
<text transform="translate(0,538) scale(1,1.07)"><tspan x="636.46" y="0" letter-spacing="-0.35">10</tspan><tspan font-size="11.4" dy="-5.7">5</tspan></text>
<text transform="translate(122,63) scale(1,1.07)" text-anchor="end" >100</text>
<text transform="translate(122,89) scale(1,1.07)" text-anchor="end" >10</text>
<text transform="translate(122,116) scale(1,1.07)" text-anchor="end" >1</text>
<text transform="translate(122,142) scale(1,1.07)" text-anchor="end" >0.1</text>
<text transform="translate(122,169) scale(1,1.07)" text-anchor="end" >0.01</text>
<text transform="translate(122,195) scale(1,1.07)" text-anchor="end" >10<tspan font-size="14" dy="-4.6" stroke="none">–</tspan><tspan font-size="11.4" dy="-1.1">3</tspan></text>
<text transform="translate(122,213) scale(1,1.07)" text-anchor="end" >100</text>
<text transform="translate(122,241) scale(1,1.07)" text-anchor="end" >10</text>
<text transform="translate(122,268) scale(1,1.07)" text-anchor="end" >1</text>
<text transform="translate(122,296) scale(1,1.07)" text-anchor="end" >0.1</text>
<text transform="translate(122,323) scale(1,1.07)" text-anchor="end" >0.01</text>
<text transform="translate(122,351) scale(1,1.07)" text-anchor="end" >10<tspan font-size="14" dy="-4.6" stroke="none">–</tspan><tspan font-size="11.4" dy="-1.1">3</tspan></text>
<text transform="translate(122,385) scale(1,1.07)" text-anchor="end" >1</text>
<text transform="translate(122,460) scale(1,1.07)" text-anchor="end" >0.5</text>
</g>
</svg></body></html>
